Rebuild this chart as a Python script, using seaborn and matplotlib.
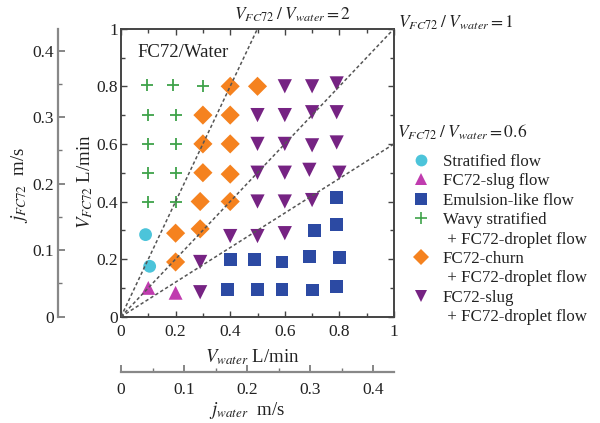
import numpy as np
import pandas as pd
import matplotlib
matplotlib.use('Agg')
import matplotlib.pyplot as plt
from matplotlib.lines import Line2D
from matplotlib.ticker import MultipleLocator
import seaborn as sns

# flow-regime map FC72/Water, volumetric flow rates in L/min
stratified_x = [0.09, 0.105]
stratified_y = [0.285, 0.175]
slug_x = [0.10, 0.20]
slug_y = [0.10, 0.083]
emulsion_x = [0.39, 0.50, 0.59, 0.70, 0.79, 0.40, 0.49, 0.59, 0.69, 0.80, 0.71, 0.79, 0.79]
emulsion_y = [0.095, 0.094, 0.094, 0.093, 0.104, 0.20, 0.20, 0.19, 0.21, 0.205, 0.30, 0.32, 0.415]
wavy_x = [0.10, 0.20, 0.10, 0.20, 0.10, 0.20, 0.10, 0.20, 0.095, 0.19, 0.30]
wavy_y = [0.40, 0.40, 0.50, 0.50, 0.60, 0.60, 0.70, 0.70, 0.805, 0.805, 0.80]
churn_x = [0.20, 0.20, 0.29, 0.29, 0.40, 0.30, 0.40, 0.30, 0.40, 0.30, 0.40, 0.40, 0.50]
churn_y = [0.19, 0.29, 0.305, 0.40, 0.40, 0.50, 0.495, 0.60, 0.60, 0.70, 0.70, 0.80, 0.80]
slug_drop_x = [0.29, 0.29, 0.40, 0.50, 0.60, 0.50, 0.60, 0.70, 0.50, 0.60, 0.69, 0.80,
               0.50, 0.60, 0.70, 0.79, 0.50, 0.60, 0.70, 0.79, 0.60, 0.70, 0.79]
slug_drop_y = [0.085, 0.19, 0.28, 0.28, 0.29, 0.40, 0.40, 0.405, 0.50, 0.50, 0.51, 0.50,
               0.60, 0.60, 0.595, 0.605, 0.70, 0.70, 0.71, 0.71, 0.80, 0.80, 0.81]

ratios = [2, 1, 0.6]

# L/min -> m/s superficial velocity (7 mm tube)
K = 0.433

regimes = {
    'Stratified flow': (stratified_x, stratified_y),
    'FC72-slug flow': (slug_x, slug_y),
    'Emulsion-like flow': (emulsion_x, emulsion_y),
    'Wavy stratified': (wavy_x, wavy_y),
    'FC72-churn': (churn_x, churn_y),
    'FC72-slug': (slug_drop_x, slug_drop_y),
}
# marker, colour, size
styles = {
    'Stratified flow': ('o', '#4cc4da', 85),
    'FC72-slug flow': ('^', '#c03caf', 100),
    'Emulsion-like flow': ('s', '#2c4aa3', 85),
    'Wavy stratified': ('+', '#3fa34a', 85),
    'FC72-churn': ('D', '#f5821f', 95),
    'FC72-slug': ('v', '#762383', 105),
}

frames = []
for name, (xs, ys) in regimes.items():
    frames.append(pd.DataFrame({'V_water': xs, 'V_fc72': ys, 'regime': name}))
df = pd.concat(frames, ignore_index=True)

sns.set_theme(style='ticks')
plt.rcParams['font.family'] = ['Liberation Serif', 'DejaVu Serif']
plt.rcParams['mathtext.fontset'] = 'stix'
plt.rcParams['text.color'] = '#222222'
plt.rcParams['xtick.labelcolor'] = '#222222'
plt.rcParams['ytick.labelcolor'] = '#222222'
FS = 12.5

fig = plt.figure(figsize=(6, 4.23), dpi=100)
ax = fig.add_axes([121/600, 1 - 316.7/423, 273/600, 288/423])

for name in regimes:
    mk, col, sz = styles[name]
    sub = df[df['regime'] == name]
    if mk == '+':
        sns.scatterplot(data=sub, x='V_water', y='V_fc72', marker=mk, color=col,
                        s=sz, linewidth=1.3, ax=ax, legend=False, zorder=2)
    else:
        sns.scatterplot(data=sub, x='V_water', y='V_fc72', marker=mk, color=col,
                        s=sz, edgecolor='none', ax=ax, legend=False, zorder=2)

# constant volume-ratio lines
xx = np.linspace(0, 1, 200)
for r in ratios:
    yy = r * xx
    m = yy <= 1
    ax.plot(xx[m], yy[m], color='#555555', lw=1.1, ls=(0, (2.2, 1.6)), zorder=3)

ax.set_xlim(0, 1)
ax.set_ylim(0, 1)
ax.set_xlabel('')
ax.set_ylabel('')
ax.set_xticks([0, 0.2, 0.4, 0.6, 0.8, 1])
ax.set_xticklabels(['0', '0.2', '0.4', '0.6', '0.8', '1'])
ax.set_yticks([0, 0.2, 0.4, 0.6, 0.8, 1])
ax.set_yticklabels(['0', '0.2', '0.4', '0.6', '0.8', '1'])
ax.xaxis.set_minor_locator(MultipleLocator(0.1))
ax.yaxis.set_minor_locator(MultipleLocator(0.1))
ax.tick_params(which='both', direction='in', top=True, right=True,
               labelsize=FS, color='#444444')
ax.tick_params(axis='x', which='major', pad=5)
ax.tick_params(axis='y', which='major', pad=2)
ax.tick_params(which='major', length=4, width=1)
ax.tick_params(which='minor', length=3, width=1)
for sp in ax.spines.values():
    sp.set_visible(True)
    sp.set_color('#444444')
    sp.set_linewidth(1.4)

ax.text(0.062, 0.916, 'FC72/Water', transform=ax.transAxes, fontsize=13.5,
        ha='left', va='center')

ax.text(0.63, 1.048, r'$V_{\mathit{FC72}}\;/\;V_{\mathit{water}} = 2$', transform=ax.transAxes,
        fontsize=FS, ha='center', va='center')
ax.text(1.015, 1.02, r'$V_{\mathit{FC72}}\;/\;V_{\mathit{water}} = 1$', transform=ax.transAxes,
        fontsize=FS, ha='left', va='center')
ax.text(1.01, 0.641, r'$V_{\mathit{FC72}}\;/\;V_{\mathit{water}} = 0.6$', transform=ax.transAxes,
        fontsize=FS, ha='left', va='center')

ax.text(-0.13, 0.47, r'$V_{\mathit{FC72}}$ L/min', transform=ax.transAxes, fontsize=13.5,
        rotation=90, ha='center', va='center')
ax.text(0.48, -0.14, r'$V_{\mathit{water}}$ L/min', transform=ax.transAxes, fontsize=13.5,
        ha='center', va='center')

# superficial velocity scales
sec_y = ax.secondary_yaxis(-0.231, functions=(lambda v: v * K, lambda j: j / K))
sec_y.set_yticks([0, 0.1, 0.2, 0.3, 0.4])
sec_y.set_yticklabels(['0', '0.1', '0.2', '0.3', '0.4'])
sec_y.yaxis.set_minor_locator(MultipleLocator(0.05))
sec_y.tick_params(which='both', direction='in', labelsize=FS, color='#777777', pad=3)
sec_y.tick_params(which='major', length=5)
sec_y.tick_params(which='minor', length=3)
sec_y.spines['left'].set_color('#888888')
sec_y.spines['left'].set_linewidth(1.6)

sec_x = ax.secondary_xaxis(-0.192, functions=(lambda v: v * K, lambda j: j / K))
sec_x.set_xticks([0, 0.1, 0.2, 0.3, 0.4])
sec_x.set_xticklabels(['0', '0.1', '0.2', '0.3', '0.4'])
sec_x.xaxis.set_minor_locator(MultipleLocator(0.05))
sec_x.tick_params(which='both', direction='in', labelsize=FS, color='#777777', pad=7)
sec_x.tick_params(which='major', length=5)
sec_x.tick_params(which='minor', length=3)
sec_x.spines['bottom'].set_color('#888888')
sec_x.spines['bottom'].set_linewidth(1.6)

ax.text(-0.372, 0.457, r'$j_{\mathit{FC72}}$  m/s', transform=ax.transAxes, fontsize=13.5,
        rotation=90, ha='center', va='center')
ax.text(0.46, -0.324, r'$j_{\mathit{water}}$  m/s', transform=ax.transAxes, fontsize=13.5,
        ha='center', va='center')

# legend, continuation lines as blank entries
cont = ' + FC72-droplet flow'
handles, labels = [], []
for name in regimes:
    mk, col, sz = styles[name]
    if mk == '+':
        h = Line2D([], [], marker=mk, color=col, ls='none', markersize=9, markeredgewidth=1.2)
    else:
        h = Line2D([], [], marker=mk, color=col, ls='none', markersize=8.5, markeredgewidth=0)
    handles.append(h)
    labels.append(name)
    if name in ('Wavy stratified', 'FC72-churn', 'FC72-slug'):
        handles.append(Line2D([], [], ls='none'))
        labels.append(cont)

fig.legend(handles, labels, loc='upper left', bbox_to_anchor=(413/600, 1 - 154/423),
           frameon=False, fontsize=12.2, labelspacing=0.2, handlelength=1.0,
           handletextpad=0.75, borderpad=0, borderaxespad=0)

fig.savefig('out.png', dpi=100)
